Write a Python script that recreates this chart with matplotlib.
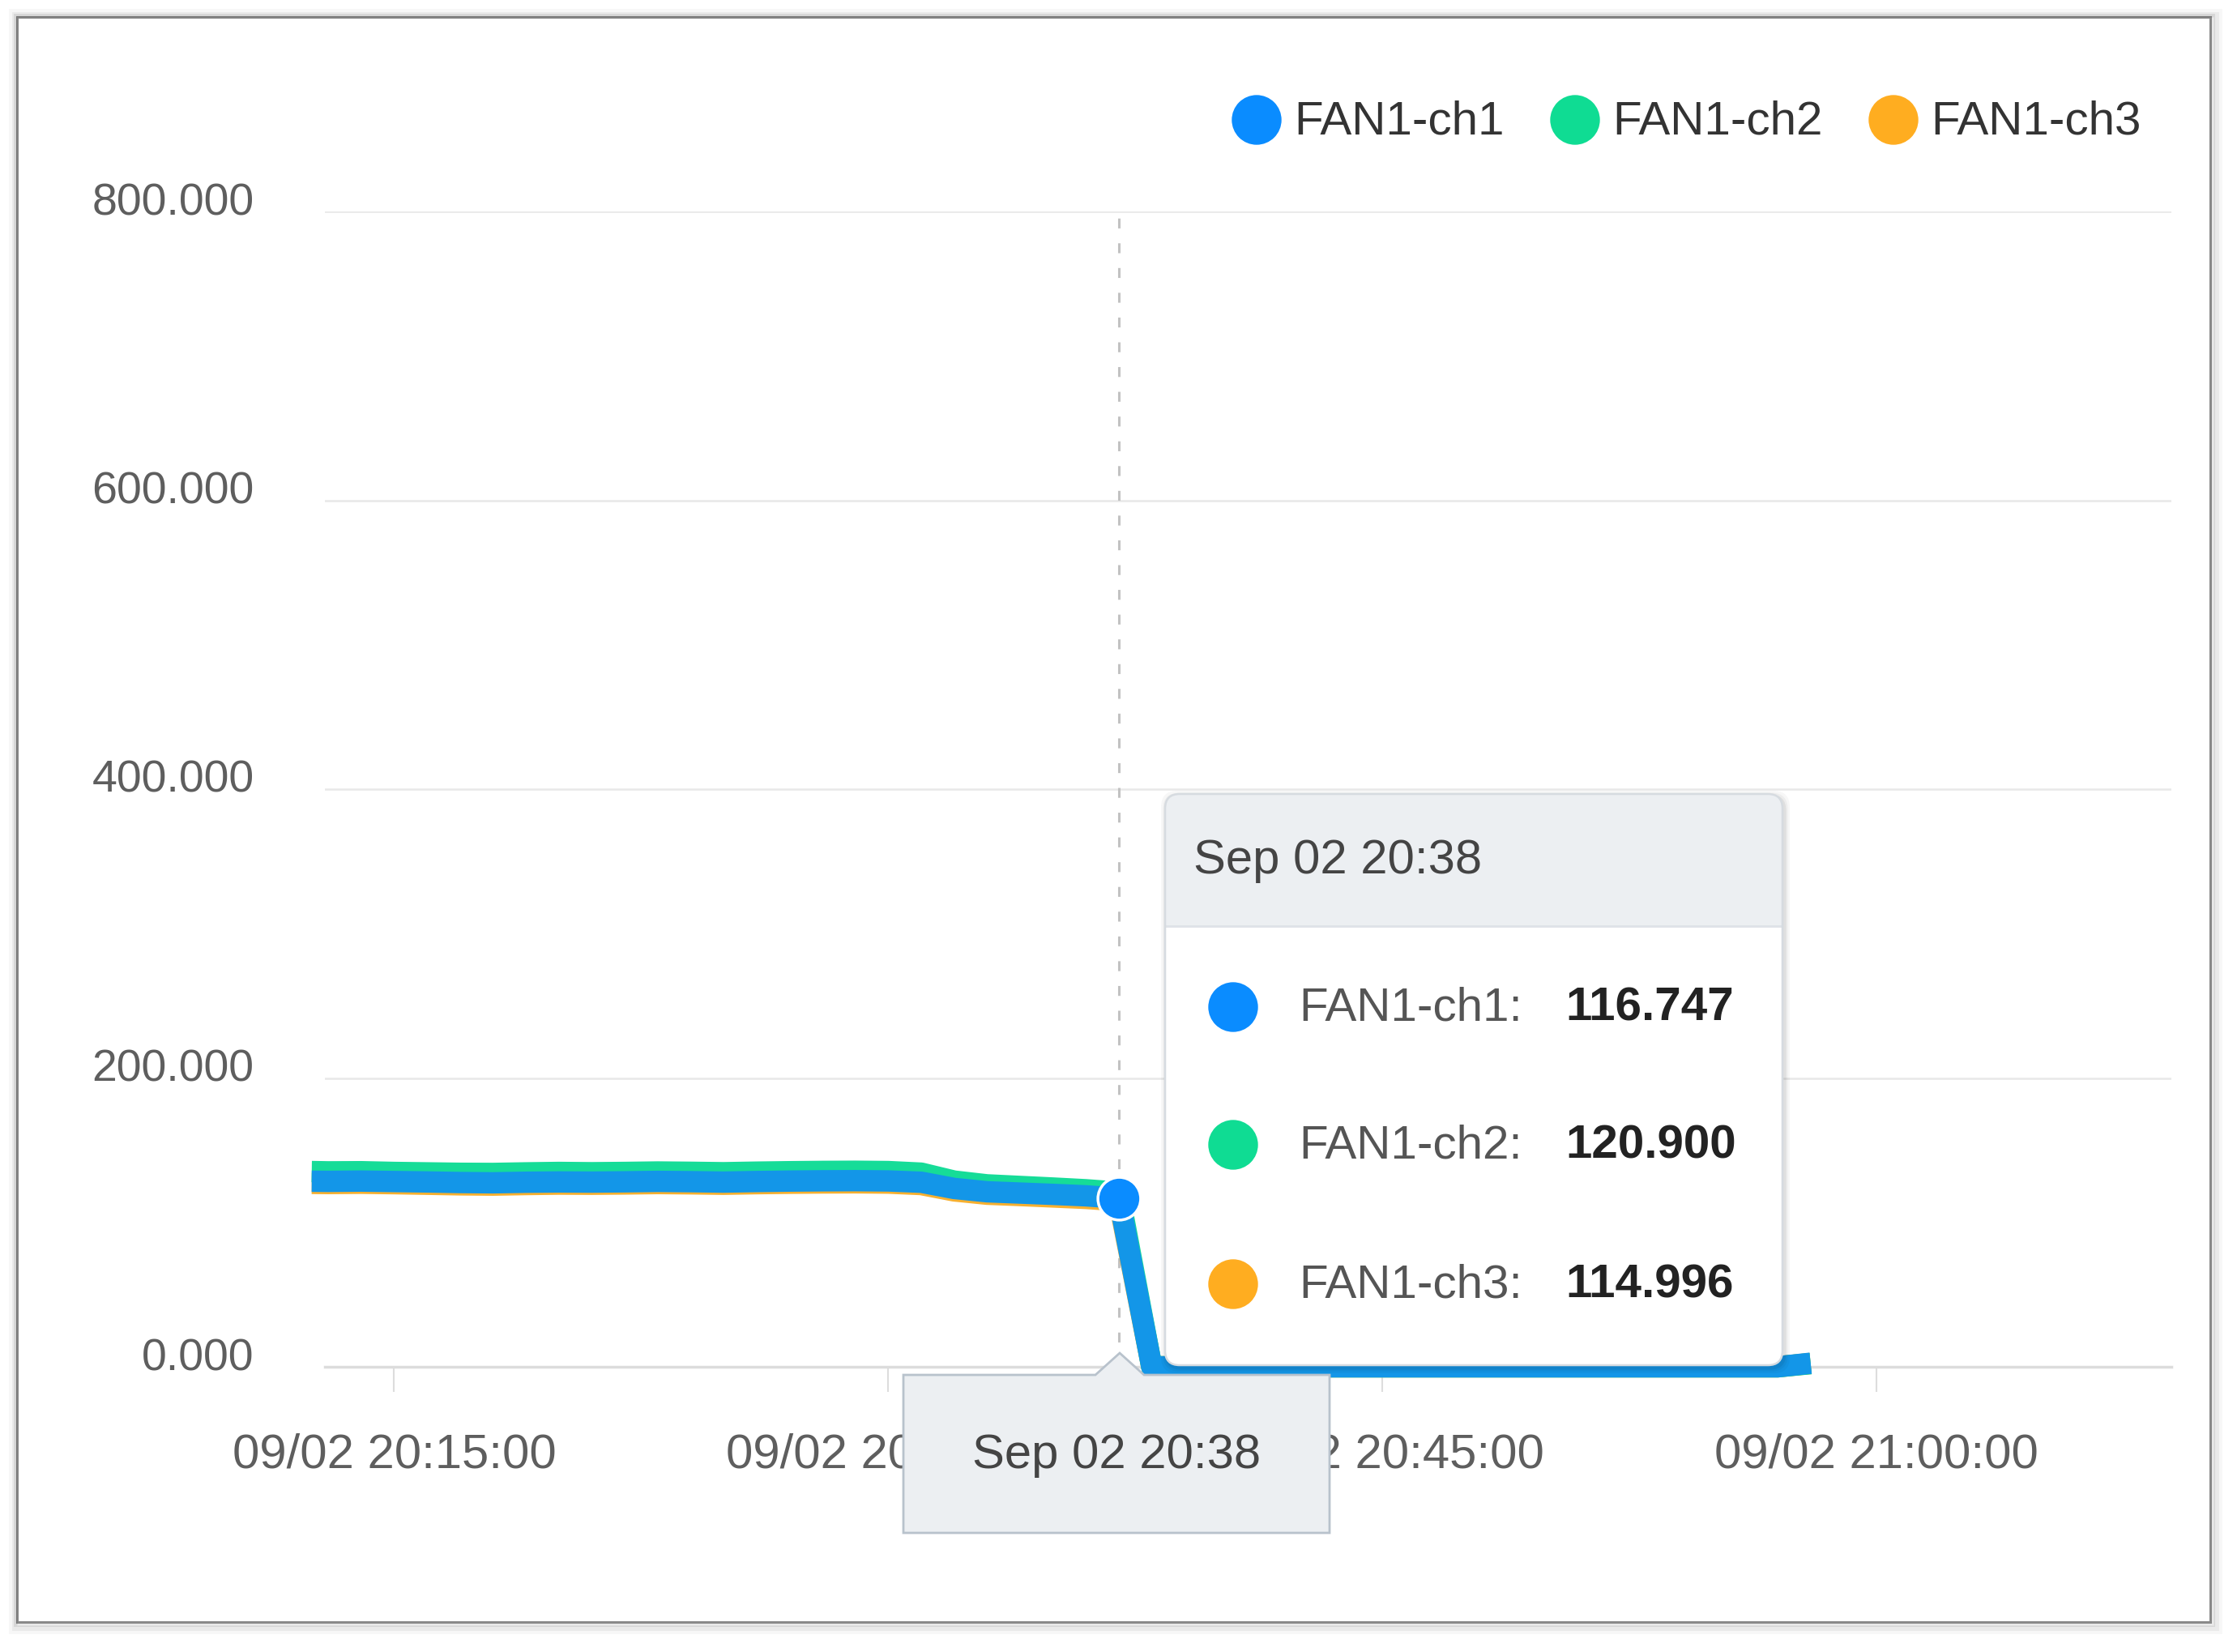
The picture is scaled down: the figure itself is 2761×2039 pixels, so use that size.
import pandas as pd
import numpy as np
import matplotlib
matplotlib.use('Agg')
import matplotlib.pyplot as plt
import matplotlib.dates as mdates
from matplotlib.patches import Rectangle, FancyBboxPatch, Polygon, Circle
from matplotlib.transforms import ScaledTranslation

plt.rcParams['font.family'] = ['Liberation Sans', 'DejaVu Sans']

# Fan readings, 09/02
times = ['20:12:30', '20:13', '20:14', '20:15', '20:16', '20:17', '20:18', '20:19',
         '20:20', '20:21', '20:22', '20:23', '20:24', '20:25', '20:26', '20:27',
         '20:28', '20:29', '20:30', '20:31', '20:32', '20:33', '20:34', '20:35',
         '20:36', '20:37', '20:38', '20:39', '20:40', '20:41', '20:42', '20:43',
         '20:44', '20:45', '20:46', '20:47', '20:48', '20:49', '20:50', '20:51',
         '20:52', '20:53', '20:54', '20:55', '20:56', '20:57', '20:58']
ch1 = [128.5, 128.4, 128.6, 128.3, 128.0, 127.6, 127.4, 127.8, 128.0, 127.9,
       128.1, 128.4, 128.2, 127.9, 128.3, 128.6, 128.8, 128.9, 128.7, 127.8,
       123.5, 121.2, 120.3, 119.4, 118.4, 116.747, 0, 0, 0, 0, 0, 0, 0, 0, 0, 0,
       0, 0, 0, 0, 0, 0, 0, 0, 0, 0, 2.5]
ch2 = [135.2, 135.0, 135.1, 134.6, 134.3, 134.0, 133.9, 134.3, 134.6, 134.4,
       134.6, 134.9, 134.7, 134.4, 134.8, 135.1, 135.3, 135.4, 135.2, 134.1,
       128.6, 126.0, 124.9, 123.8, 122.6, 120.900, 0, 0, 0, 0, 0, 0, 0, 0, 0, 0,
       0, 0, 0, 0, 0, 0, 0, 0, 0, 0, 2.2]
ch3 = [127.0, 126.9, 127.1, 126.8, 126.4, 126.0, 125.8, 126.2, 126.5, 126.4,
       126.6, 126.9, 126.7, 126.4, 126.8, 127.1, 127.3, 127.4, 127.2, 126.2,
       121.8, 119.5, 118.6, 117.6, 116.6, 114.996, 0, 0, 0, 0, 0, 0, 0, 0, 0, 0,
       0, 0, 0, 0, 0, 0, 0, 0, 0, 0, 2.3]
names = ['FAN1-ch1', 'FAN1-ch2', 'FAN1-ch3']
hover_time = '20:37'
hover_label = 'Sep 02 20:38'
yticks = [0, 200, 400, 600, 800]

dot_colors = ['#0a8cff', '#0fdc93', '#ffad20']
line_colors = ['#1396e8', '#16dc98', '#f7b030']

t = pd.to_datetime(['2020-09-02 ' + s for s in times], format='mixed')
idx = times.index(hover_time)

W, H = 2761, 2039
fig = plt.figure(figsize=(W / 100, H / 100), dpi=100)
fig.patch.set_facecolor('white')
tr = fig.dpi_scale_trans


def px(x, y):
    # screenshot pixels (top-left origin) -> inches
    return x / 100, (H - y) / 100


# screenshot frame with a soft shadow
for k, a in [(10, 0.03), (7, 0.05), (4, 0.08)]:
    fig.add_artist(Rectangle(px(21 - k / 2, 2002 + k), (2707 + k * 1.5) / 100, (1981 + k * 1.5) / 100,
                             transform=tr, fc='none', ec='black', lw=k * 0.72, alpha=a))
fig.add_artist(Rectangle(px(21, 2002), 2707 / 100, 1981 / 100, transform=tr,
                         fc='white', ec='#8a8a8a', lw=2.2, zorder=0))

ax = fig.add_axes([401 / W, 1 - 1687 / H, (2680 - 401) / W, (1687 - 261) / H])
ax.set_facecolor('none')
ax.set_ylim(0, 800)
ax.set_xlim(pd.Timestamp('2020-09-02 20:12:54'), pd.Timestamp('2020-09-02 21:08:57'))

ax.set_yticks(yticks)
ax.set_yticklabels([f'{v:.3f}' for v in yticks])
ax.xaxis.set_major_locator(mdates.MinuteLocator(byminute=[0, 15, 30, 45]))
ax.xaxis.set_major_formatter(mdates.DateFormatter('%m/%d %H:%M:%S'))
ax.tick_params(axis='y', length=0, pad=63, labelsize=40, labelcolor='#5e5e5e')
ax.tick_params(axis='x', length=22, width=1.5, color='#dddddd', pad=37,
               labelsize=43, labelcolor='#5e5e5e')
for lab in ax.get_yticklabels():
    lab.set_transform(lab.get_transform() + ScaledTranslation(0, 0.16, tr))

ax.grid(axis='y', color='#e8e8e8', lw=1.8)
ax.set_axisbelow(True)
for s in ['top', 'left', 'right']:
    ax.spines[s].set_visible(False)
ax.spines['bottom'].set_color('#dcdcdc')
ax.spines['bottom'].set_linewidth(2.5)

# series, blue drawn last so it sits on top
for vals, col in [(ch3, line_colors[2]), (ch2, line_colors[1]), (ch1, line_colors[0])]:
    ax.plot(t, vals, color=col, lw=19, solid_joinstyle='round', solid_capstyle='butt',
            clip_on=False, zorder=3)

# axis pointer
ax.axvline(t[idx], color='#c2c2c2', lw=2.2, ls=(0, (4, 6)), zorder=2)
ax.plot(t[idx], ch1[idx], 'o', ms=38, mfc=dot_colors[0], mec='white', mew=2.5,
        zorder=5, clip_on=False)

# legend
for name, col, x in zip(names, dot_colors, [1551, 1944, 2337]):
    fig.add_artist(Circle(px(x, 148), 0.30, transform=tr, color=col))
    fig.text(*px(x + 46, 150), name, transform=tr, ha='left', va='center',
             fontsize=42, color='#333333')

# tooltip
bx0, by0, bx1, by1 = 1438, 980, 2200, 1685
for k, a in [(14, 0.03), (9, 0.04), (5, 0.06)]:
    fig.add_artist(FancyBboxPatch(px(bx0 - k / 2 + 2, by1 + k / 2 + 3), (bx1 - bx0 + k) / 100,
                                  (by1 - by0 + k) / 100, boxstyle='round,pad=0,rounding_size=0.2',
                                  transform=tr, fc='black', ec='none', alpha=a))
fig.add_artist(FancyBboxPatch(px(bx0, by1), (bx1 - bx0) / 100, (by1 - by0) / 100,
                              boxstyle='round,pad=0,rounding_size=0.18', transform=tr,
                              fc='white', ec='none'))
fig.add_artist(FancyBboxPatch(px(bx0, 1143), (bx1 - bx0) / 100, (1143 - by0) / 100,
                              boxstyle='round,pad=0,rounding_size=0.18', transform=tr,
                              fc='#eceff2', ec='none'))
fig.add_artist(Rectangle(px(bx0, 1143), (bx1 - bx0) / 100, 0.4, transform=tr,
                         fc='#eceff2', ec='none'))
fig.add_artist(Rectangle(px(bx0, 1145), (bx1 - bx0) / 100, 0.03, transform=tr,
                         fc='#dfe3e8', ec='none'))
fig.add_artist(FancyBboxPatch(px(bx0, by1), (bx1 - bx0) / 100, (by1 - by0) / 100,
                              boxstyle='round,pad=0,rounding_size=0.18', transform=tr,
                              fc='none', ec='#d6dbe0', lw=1.8))
fig.text(*px(1473, 1062), hover_label, transform=tr, ha='left', va='center',
         fontsize=43, color='#444444')
for name, col, vals, y in zip(names, dot_colors, [ch1, ch2, ch3], [1243, 1413, 1585]):
    fig.add_artist(Circle(px(1522, y), 0.30, transform=tr, color=col))
    fig.text(*px(1603, y + 2), name + ':', transform=tr, ha='left', va='center',
             fontsize=42, color='#555555')
    fig.text(*px(1932, y + 2), f'{vals[idx]:.3f}', transform=tr, ha='left', va='center',
             fontsize=42, color='#222222', fontweight='bold')

# x axis pointer label
cx = 1382
pts = [(1115, 1697), (cx - 30, 1697), (cx, 1670), (cx + 30, 1697), (1641, 1697),
       (1641, 1892), (1115, 1892)]
fig.add_artist(Polygon([px(x, y) for x, y in pts], closed=True, transform=tr,
                       fc='#eceff2', ec='#b8c2cc', lw=2))
fig.text(*px(1378, 1797), hover_label, transform=tr, ha='center', va='center',
         fontsize=43, color='#444444')

fig.savefig('out.png', dpi=100, facecolor='white')
